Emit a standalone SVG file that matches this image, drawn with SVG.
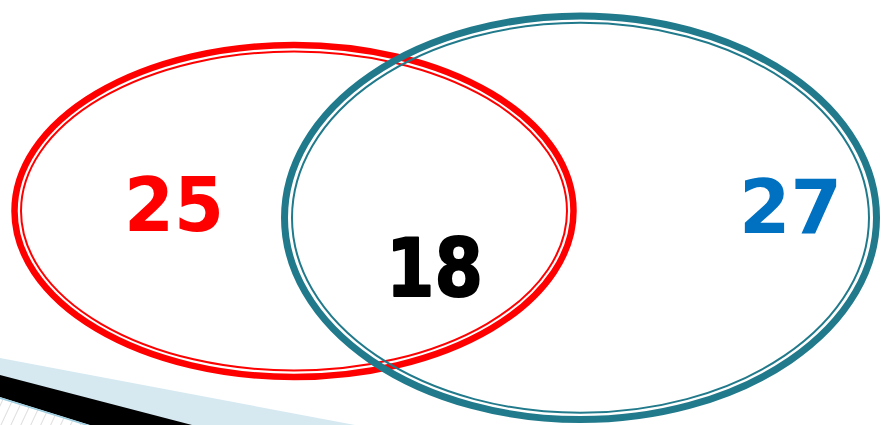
<svg xmlns="http://www.w3.org/2000/svg" width="882" height="425" viewBox="0 0 882 425">
  <style>
    .num { font-family: "DejaVu Sans", "Liberation Sans", sans-serif; font-weight: bold; }
    .red-thick { fill: none; stroke: #ff0000; stroke-width: 6.5; }
    .red-thin { fill: none; stroke: #ff0000; stroke-width: 2; }
    .teal-thick { fill: none; stroke: #217a8b; stroke-width: 7; }
    .teal-thin { fill: none; stroke: #217a8b; stroke-width: 2; }
  </style>
  <defs>
    <pattern id="hatch" patternUnits="userSpaceOnUse" width="9" height="9" patternTransform="rotate(25)">
      <rect width="9" height="9" fill="#ffffff"/>
      <line x1="0" y1="0" x2="0" y2="9" stroke="#c8c8c8" stroke-width="1.2"/>
    </pattern>
  </defs>
  <rect width="882" height="425" fill="#ffffff"/>
  <g id="decoration">
    <polygon points="0,358 355,425 0,425" fill="#d6e9f1"/>
    <polygon points="0,375 192,425 90,425 0,397" fill="#000000"/>
    <polygon points="0,399 88,425 0,425" fill="url(#hatch)"/>
    <line x1="0" y1="398" x2="90" y2="426" stroke="#9ccde0" stroke-width="1.5"/>
  </g>
  <g id="set-red">
    <ellipse class="red-thick" cx="294" cy="211" rx="279.5" ry="166"/>
    <ellipse class="red-thin" cx="294" cy="211" rx="273" ry="159.5"/>
  </g>
  <g id="set-teal">
    <ellipse class="teal-thick" cx="580.5" cy="217.8" rx="296" ry="201.8"/>
    <ellipse class="teal-thin" cx="580.5" cy="217.8" rx="288.5" ry="195"/>
  </g>
  <g id="label-25">
    <text class="num" x="124" y="231" font-size="75" textLength="100" lengthAdjust="spacingAndGlyphs" fill="#ff0000">25</text>
  </g>
  <g id="label-18">
    <text class="num" x="386" y="296" font-size="80" textLength="97" lengthAdjust="spacingAndGlyphs" fill="#000000" stroke="#000000" stroke-width="2" stroke-linejoin="round">18</text>
  </g>
  <g id="label-27">
    <text class="num" x="739" y="233" font-size="75" textLength="103" lengthAdjust="spacingAndGlyphs" fill="#0070c0">27</text>
  </g>
</svg>
